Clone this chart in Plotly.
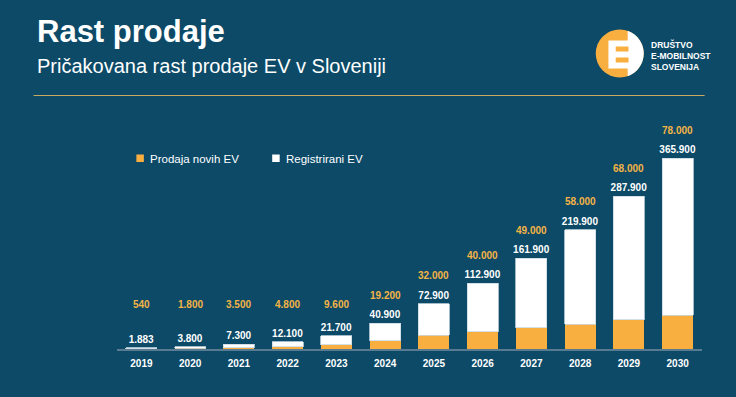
import math
import plotly.graph_objects as go

# ---- data ----
years = ["2019", "2020", "2021", "2022", "2023", "2024", "2025", "2026", "2027", "2028", "2029", "2030"]
sales = [540, 1800, 3500, 4800, 9600, 19200, 32000, 40000, 49000, 58000, 68000, 78000]
registered = [1883, 3800, 7300, 12100, 21700, 40900, 72900, 112900, 161900, 219900, 287900, 365900]
series_names = ["Prodaja novih EV", "Registrirani EV"]
title_text = "Rast prodaje"
subtitle_text = "Pričakovana rast prodaje EV v Sloveniji"
logo_text = "DRUŠTVO<br>E-MOBILNOST<br>SLOVENIJA"

# ---- style ----
W_PX, H_PX = 736, 397
ML, MR, MT, MB = 116.6, 33.6, 110, 48
BG = "#0c4a68"
ORANGE = "#f9ae40"
LABEL_ORANGE = "#f4b445"
GOLD = "#c9a862"
NARROW = "Liberation Sans Narrow, Arial Narrow, Liberation Sans, Arial, sans-serif"
SANS = "Liberation Sans, Arial, sans-serif"

PW = W_PX - ML - MR
PH = H_PX - MT - MB


def px(x):
    return (x - ML) / PW


def py(y):
    return (H_PX - MB - y) / PH


def fmt(v):
    return f"{v:,}".replace(",", ".")


totals = [s + r for s, r in zip(sales, registered)]
ymax = max(totals) * 1.253

fig = go.Figure()
fig.add_trace(go.Bar(
    x=years, y=sales, name=series_names[0],
    marker=dict(color=ORANGE, line=dict(width=0)),
    showlegend=False,
))
fig.add_trace(go.Bar(
    x=years, y=registered, name=series_names[1],
    marker=dict(color="white", line=dict(width=0.8, color="#c9d8e2")),
    text=[fmt(v) for v in registered], textposition="outside", constraintext="none",
    textfont=dict(family=NARROW, size=10, color="white", weight="bold"),
    cliponaxis=False, showlegend=False,
))

annotations = []
floor = 0.071 * ymax
for i, (s, t) in enumerate(zip(sales, totals)):
    annotations.append(dict(
        x=i, y=max(t, floor), xref="x", yref="y", text=fmt(s), showarrow=False,
        yshift=28, font=dict(family=NARROW, size=10, color=LABEL_ORANGE, weight="bold"),
    ))

# titles
annotations.append(dict(x=px(34), y=py(31.5), xref="paper", yref="paper", xanchor="left", yanchor="middle",
                        text=title_text, showarrow=False,
                        font=dict(family=SANS, size=31, color="white", weight="bold")))
annotations.append(dict(x=px(34), y=py(66), xref="paper", yref="paper", xanchor="left", yanchor="middle",
                        text=subtitle_text, showarrow=False,
                        font=dict(family=SANS, size=20, color="white")))
# logo text
annotations.append(dict(x=px(649), y=py(55), xref="paper", yref="paper", xanchor="left", yanchor="middle",
                        text=logo_text, showarrow=False, align="left",
                        font=dict(family=NARROW, size=8.5, color="white", weight="bold")))

# legend
leg_items = [(136, ORANGE, series_names[0]), (272, "white", series_names[1])]
shapes = []
for x0, col, name in leg_items:
    shapes.append(dict(type="rect", xref="paper", yref="paper", x0=px(x0), x1=px(x0 + 7.5),
                       y0=py(162), y1=py(154.5), fillcolor=col, line=dict(width=0)))
    annotations.append(dict(x=px(x0 + 12), y=py(158.5), xref="paper", yref="paper", xanchor="left",
                            yanchor="middle", text=name, showarrow=False,
                            font=dict(family=NARROW, size=11.5, color="white")))

# separator line
shapes.append(dict(type="line", xref="paper", yref="paper", x0=px(33), x1=px(705), y0=py(95.5), y1=py(95.5),
                   line=dict(color=GOLD, width=1.2)))

# logo graphic
cx, cy, r = 620, 53.5, 24
shapes.append(dict(type="circle", xref="paper", yref="paper", x0=px(cx - r), x1=px(cx + r),
                   y0=py(cy + r), y1=py(cy - r), fillcolor=ORANGE, line=dict(width=0)))
split = 628
a = math.acos((split - cx) / r)
pts = []
n = 40
for k in range(n + 1):
    th = -a + 2 * a * k / n
    pts.append((cx + r * math.cos(th), cy + r * math.sin(th)))
path = "M " + " L ".join(f"{px(x):.5f},{py(y):.5f}" for x, y in pts) + " Z"
shapes.append(dict(type="path", xref="paper", yref="paper", path=path, fillcolor="white", line=dict(width=0)))
shapes.append(dict(type="rect", xref="paper", yref="paper", x0=px(608.7), x1=px(628.5),
                   y0=py(68.5), y1=py(40.5), fillcolor="white", line=dict(width=0)))
for y0, y1 in [(46.5, 51.5), (57.5, 62.5)]:
    shapes.append(dict(type="rect", xref="paper", yref="paper", x0=px(616), x1=px(628.8),
                       y0=py(y1), y1=py(y0), fillcolor=ORANGE, line=dict(width=0)))

fig.update_layout(
    width=W_PX, height=H_PX,
    margin=dict(l=ML, r=MR, t=MT, b=MB, pad=0),
    paper_bgcolor=BG, plot_bgcolor=BG,
    barmode="stack", bargap=0.36,
    showlegend=False,
    annotations=annotations, shapes=shapes,
    xaxis=dict(type="category", categoryorder="array", categoryarray=years,
               range=[-0.5, len(years) - 0.5], autorange=False,
               showgrid=False, zeroline=False, ticks="", ticklabelstandoff=4,
               showline=True, linecolor="#587b91", linewidth=1.5,
               tickfont=dict(family=NARROW, size=10, color="white", weight="bold")),
    yaxis=dict(visible=False, range=[0, ymax], autorange=False, showgrid=False, zeroline=False),
)

fig.write_html("out.html", config={"displayModeBar": False},
               post_script="document.body.style.margin='0px';document.body.style.overflow='hidden';")
